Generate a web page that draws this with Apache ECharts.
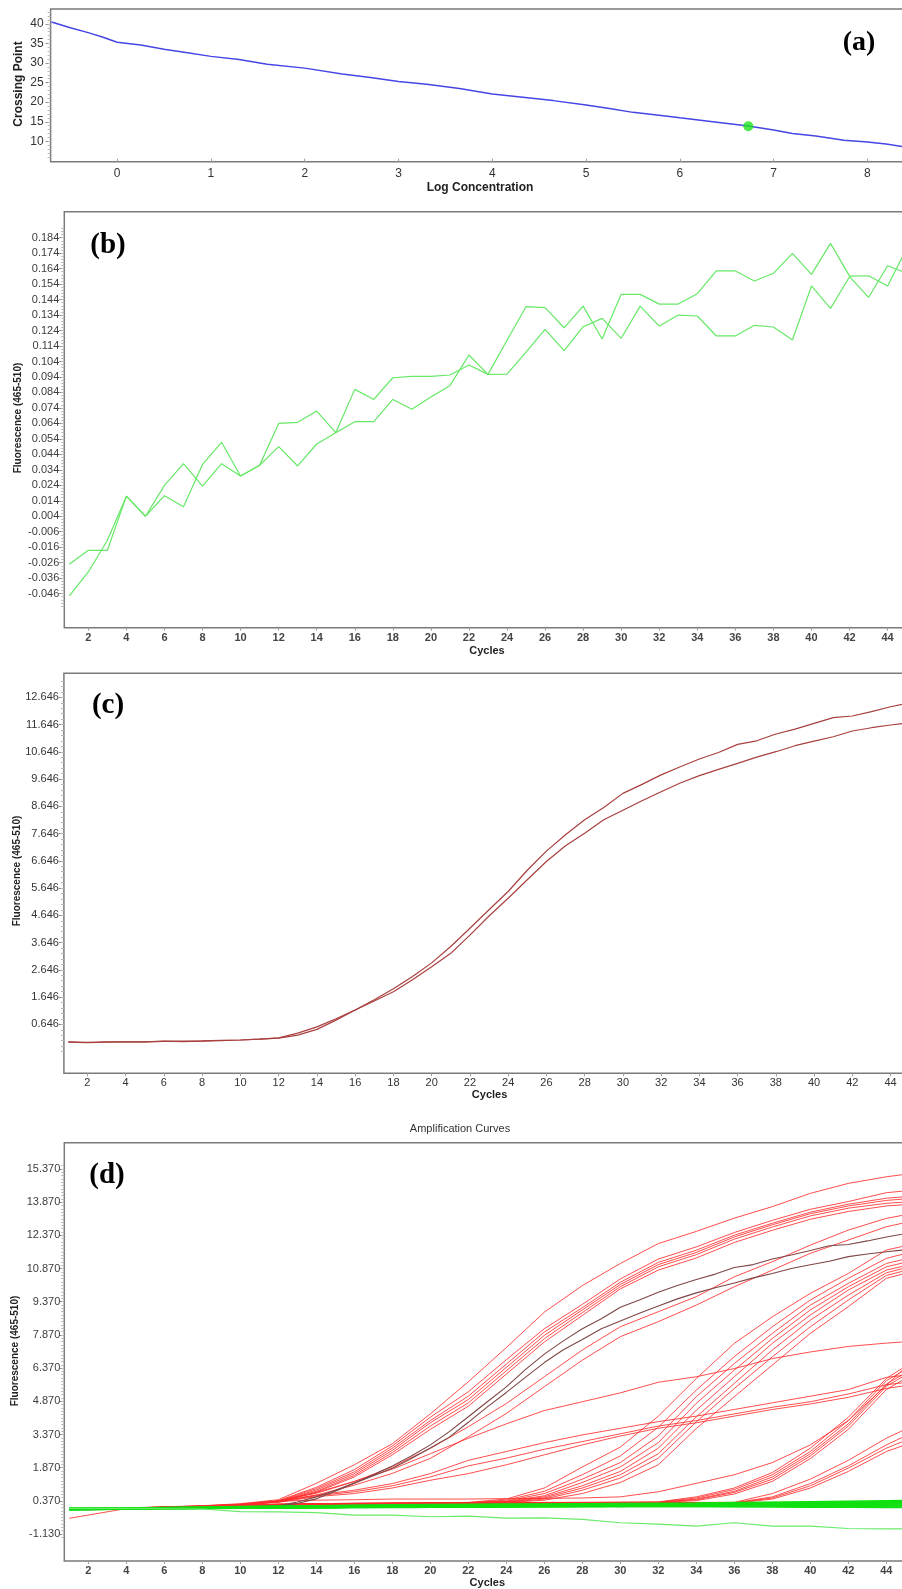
<!DOCTYPE html>
<html>
<head>
<meta charset="utf-8">
<script src="https://cdn.jsdelivr.net/npm/echarts@6/dist/echarts.min.js"></script>
<style>
  html, body { margin: 0; padding: 0; background: #fff; }
  #chart { width: 902px; height: 1589px; }
</style>
</head>
<body>
<div id="chart"></div>
<script>
// ---------- (a) standard curve ----------
const logConc = [-0.7,-0.5,-0.3,-0.15,0,0.25,0.5,0.75,1.0,1.3,1.6,2.0,2.4,2.7,3.0,3.3,3.65,4.0,4.3,4.65,5.0,5.25,5.5,5.8,6.0,6.35,6.73,7.0,7.2,7.45,7.75,8.0,8.2,8.45];
const crossingPoint = [40.5,39.0,37.7,36.6,35.3,34.6,33.5,32.6,31.7,30.9,29.7,28.7,27.2,26.3,25.3,24.6,23.5,22.1,21.3,20.4,19.3,18.4,17.4,16.6,16.0,15.0,13.9,12.9,12.0,11.35,10.3,9.85,9.3,8.4];
const samplePoint = [6.73, 13.85];
const ticksAX = [0,1,2,3,4,5,6,7,8];
const ticksAY = [10,15,20,25,30,35,40];

// ---------- cycle numbers ----------
const cycles = [1,2,3,4,5,6,7,8,9,10,11,12,13,14,15,16,17,18,19,20,21,22,23,24,25,26,27,28,29,30,31,32,33,34,35,36,37,38,39,40,41,42,43,44,45];
const cycleTicks = [2,4,6,8,10,12,14,16,18,20,22,24,26,28,30,32,34,36,38,40,42,44];

// ---------- (b) negative samples ----------
const negA = [-0.027,-0.018,-0.018,0.017,0.004,0.024,0.038,0.0235,0.038,0.030,0.037,0.064,0.0647,0.072,0.058,0.086,0.0795,0.0935,0.0944,0.0944,0.0953,0.1017,0.0957,0.0959,0.110,0.1248,0.1110,0.1265,0.1319,0.1190,0.1398,0.1269,0.1340,0.1334,0.1205,0.1205,0.1274,0.1263,0.1179,0.1528,0.1383,0.1588,0.1454,0.1659,0.161];
const negB = [-0.0475,-0.032,-0.0115,0.017,0.004,0.0173,0.0102,0.0375,0.0518,0.030,0.037,0.049,0.0365,0.0507,0.058,0.0651,0.0651,0.0795,0.0731,0.081,0.0884,0.1082,0.0957,0.1177,0.1394,0.1388,0.1258,0.1398,0.1185,0.1474,0.1474,0.1411,0.1411,0.1478,0.1625,0.1625,0.1560,0.1610,0.1739,0.1603,0.1803,0.1592,0.1594,0.1528,0.177];
const ticksBY = [-0.046,-0.036,-0.026,-0.016,-0.006,0.004,0.014,0.024,0.034,0.044,0.054,0.064,0.074,0.084,0.094,0.104,0.114,0.124,0.134,0.144,0.154,0.164,0.174,0.184];

// ---------- (c) positive control ----------
const posUpper = [-0.01,-0.03,-0.01,0.0,0.0,0.03,0.01,0.03,0.05,0.07,0.1,0.15,0.32,0.55,0.85,1.17,1.55,1.95,2.4,2.9,3.5,4.17,4.85,5.52,6.3,7.0,7.6,8.15,8.6,9.12,9.45,9.8,10.1,10.38,10.62,10.92,11.05,11.3,11.48,11.69,11.9,11.96,12.12,12.3,12.45];
const posLower = [0.0,-0.02,0.0,0.0,0.0,0.02,0.03,0.04,0.06,0.07,0.1,0.14,0.25,0.46,0.8,1.17,1.5,1.84,2.28,2.76,3.25,3.92,4.62,5.27,5.95,6.62,7.2,7.66,8.15,8.5,8.85,9.18,9.5,9.77,10.0,10.22,10.45,10.65,10.87,11.04,11.2,11.41,11.53,11.63,11.72];
const ticksCY = [0.646,1.646,2.646,3.646,4.646,5.646,6.646,7.646,8.646,9.646,10.646,11.646,12.646];

// ---------- (d) all amplification curves ----------
const cyclesD = [1,4,8,10,12,14,16,18,20,22,24,26,28,30,32,34,36,38,40,42,44,45];
const earlyCurves = [
  [0.0,0.05,0.15,0.24,0.42,1.16,2.0,2.95,4.3,5.75,7.3,8.9,10.1,11.1,12.0,12.55,13.15,13.67,14.27,14.72,15.02,15.13],
  [0.02,0.04,0.14,0.22,0.38,0.98,1.78,2.85,4.15,5.3,6.75,8.15,9.25,10.4,11.3,11.85,12.5,13.05,13.55,13.9,14.3,14.38],
  [0.01,0.04,0.13,0.21,0.36,0.92,1.68,2.75,4.0,5.1,6.55,8.0,9.1,10.25,11.15,11.7,12.38,12.92,13.42,13.78,14.05,14.12],
  [0.0,0.03,0.12,0.2,0.34,0.86,1.6,2.65,3.9,4.95,6.4,7.85,9.0,10.15,11.05,11.6,12.3,12.85,13.35,13.7,13.95,14.02],
  [0.0,0.03,0.12,0.2,0.33,0.8,1.52,2.55,3.75,4.8,6.25,7.7,8.88,10.05,10.95,11.5,12.2,12.75,13.25,13.6,13.82,13.88],
  [-0.02,0.03,0.11,0.19,0.32,0.76,1.45,2.45,3.6,4.65,6.1,7.55,8.75,9.95,10.8,11.35,12.05,12.6,13.1,13.45,13.7,13.76],
  [0.0,0.03,0.12,0.2,0.37,0.71,1.24,1.91,2.74,3.72,4.77,5.98,7.19,8.24,8.92,9.6,10.5,11.18,11.93,12.61,13.14,13.3],
  [0.01,0.03,0.12,0.19,0.35,0.63,1.08,1.61,2.29,3.27,4.32,5.53,6.73,7.79,8.47,9.22,10.05,10.8,11.56,12.16,12.76,12.95]
];
const shallowCurves = [
  [0.0,0.04,0.13,0.2,0.35,0.75,1.25,1.8,2.5,3.2,3.85,4.45,4.85,5.25,5.73,5.98,6.35,6.8,7.1,7.35,7.5,7.56],
  [0.0,0.03,0.12,0.19,0.33,0.63,0.85,1.15,1.6,2.2,2.6,3.0,3.35,3.65,3.95,4.2,4.5,4.8,5.1,5.4,5.95,6.05],
  [0.01,0.03,0.12,0.19,0.32,0.6,0.78,1.05,1.45,1.95,2.3,2.7,3.05,3.4,3.75,4.0,4.3,4.6,4.85,5.2,5.62,5.72],
  [0.0,0.03,0.11,0.18,0.3,0.56,0.7,0.95,1.3,1.6,2.0,2.45,2.9,3.3,3.65,3.9,4.2,4.5,4.75,5.05,5.45,5.58]
];
const midCurves = [
  [0.0,0.03,0.12,0.18,0.22,0.24,0.26,0.27,0.28,0.3,0.45,0.95,1.9,2.8,4.2,5.9,7.49,8.69,9.75,10.65,11.71,11.9],
  [0.0,0.03,0.12,0.18,0.22,0.24,0.26,0.27,0.28,0.29,0.4,0.8,1.55,2.4,3.7,5.38,6.89,8.24,9.45,10.43,11.33,11.55],
  [0.01,0.03,0.11,0.17,0.21,0.23,0.25,0.26,0.27,0.28,0.36,0.7,1.35,2.1,3.3,5.08,6.58,7.94,9.22,10.2,11.1,11.3],
  [0.0,0.03,0.11,0.17,0.21,0.23,0.25,0.26,0.27,0.28,0.34,0.6,1.2,1.9,3.0,4.78,6.28,7.71,9.0,10.05,10.95,11.15],
  [0.0,0.03,0.11,0.17,0.2,0.22,0.24,0.25,0.26,0.27,0.32,0.55,1.05,1.7,2.75,4.47,5.98,7.49,8.77,9.9,10.8,11.0],
  [0.01,0.03,0.11,0.16,0.2,0.22,0.24,0.25,0.26,0.27,0.31,0.5,0.95,1.55,2.5,4.17,5.68,7.19,8.54,9.67,10.68,10.9],
  [0.0,0.03,0.1,0.16,0.2,0.22,0.23,0.24,0.25,0.26,0.3,0.45,0.85,1.4,2.3,3.94,5.45,6.88,8.24,9.45,10.56,10.78],
  [0.0,0.03,0.1,0.16,0.19,0.21,0.23,0.24,0.25,0.26,0.29,0.4,0.7,1.2,2.0,3.64,5.08,6.51,7.94,9.15,10.43,10.65]
];
const lateCurves = [
  [0.0,0.04,0.14,0.2,0.35,0.4,0.42,0.45,0.45,0.45,0.47,0.48,0.5,0.55,0.78,1.16,1.55,2.1,2.9,4.0,5.6,6.4],
  [0.0,0.03,0.11,0.17,0.21,0.23,0.25,0.26,0.27,0.28,0.29,0.3,0.3,0.31,0.32,0.55,0.95,1.65,2.75,4.15,5.9,6.45],
  [0.0,0.03,0.11,0.17,0.2,0.22,0.24,0.25,0.26,0.27,0.28,0.29,0.3,0.3,0.31,0.5,0.88,1.55,2.6,4.0,5.8,6.3],
  [0.01,0.03,0.1,0.16,0.2,0.22,0.24,0.25,0.26,0.27,0.28,0.29,0.29,0.3,0.3,0.45,0.8,1.45,2.5,3.85,5.65,6.15],
  [0.0,0.03,0.1,0.16,0.2,0.22,0.23,0.24,0.25,0.26,0.27,0.28,0.29,0.29,0.3,0.42,0.75,1.35,2.4,3.75,5.55,6.05],
  [0.0,0.03,0.1,0.16,0.19,0.21,0.23,0.24,0.25,0.26,0.27,0.28,0.28,0.29,0.29,0.38,0.68,1.25,2.28,3.6,5.4,5.9]
];
const latestCurves = [
  [0.0,0.03,0.1,0.16,0.19,0.21,0.23,0.24,0.25,0.26,0.27,0.28,0.28,0.29,0.29,0.3,0.3,0.7,1.35,2.2,3.2,3.6],
  [0.0,0.03,0.1,0.16,0.19,0.21,0.22,0.23,0.24,0.25,0.26,0.27,0.28,0.28,0.29,0.29,0.28,0.55,1.15,1.95,2.9,3.3],
  [0.01,0.03,0.1,0.15,0.18,0.2,0.22,0.23,0.24,0.25,0.26,0.26,0.27,0.28,0.28,0.28,0.27,0.5,1.05,1.85,2.75,3.1],
  [-0.42,0.02,0.1,0.15,0.18,0.2,0.21,0.22,0.23,0.24,0.25,0.26,0.27,0.27,0.28,0.28,0.26,0.45,0.95,1.7,2.6,2.9]
];
const negativeBand = [
  [0.02,0.03,0.06,0.08,0.1,0.12,0.13,0.14,0.15,0.16,0.17,0.17,0.18,0.19,0.19,0.2,0.21,0.22,0.24,0.25,0.27,0.28],
  [-0.02,0.02,0.05,0.07,0.08,0.09,0.1,0.11,0.12,0.13,0.13,0.14,0.15,0.15,0.16,0.17,0.18,0.2,0.21,0.22,0.23,0.24],
  [0.01,0.03,0.07,0.09,0.11,0.13,0.15,0.16,0.17,0.18,0.19,0.2,0.21,0.22,0.23,0.24,0.26,0.28,0.3,0.31,0.32,0.33],
  [0.0,0.02,0.04,0.05,0.06,0.07,0.08,0.09,0.09,0.1,0.1,0.11,0.11,0.12,0.12,0.13,0.13,0.14,0.14,0.15,0.15,0.16],
  [0.03,0.03,0.08,0.1,0.12,0.14,0.16,0.18,0.19,0.2,0.21,0.22,0.23,0.24,0.25,0.26,0.28,0.3,0.32,0.34,0.36,0.37],
  [-0.01,0.02,0.05,0.06,0.07,0.08,0.09,0.09,0.1,0.1,0.11,0.11,0.12,0.12,0.12,0.12,0.11,0.1,0.09,0.09,0.08,0.08]
];
const negativeDrift = [0.03,0.03,0.0,-0.12,-0.13,-0.16,-0.28,-0.28,-0.35,-0.32,-0.41,-0.4,-0.47,-0.62,-0.68,-0.77,-0.62,-0.77,-0.77,-0.88,-0.9,-0.9];
const ticksDY = [-1.13,0.37,1.87,3.37,4.87,6.37,7.87,9.37,10.87,12.37,13.87,15.37];

// ---------- helpers ----------
const SANS = "'Liberation Sans', Arial, sans-serif";
const SERIF = "'Liberation Serif', 'Times New Roman', serif";

function steps(from, to, step) {
  const out = [];
  for (let i = 0; from + i * step <= to + 1e-9; i++) out.push(+(from + i * step).toFixed(4));
  return out;
}
function pairs(xs, ys) { return xs.map((x, i) => [x, ys[i]]); }

const series = [];
function addLine(gi, xs, ys, color, width, opacity) {
  series.push({
    type: 'line', xAxisIndex: gi, yAxisIndex: gi, data: pairs(xs, ys),
    symbol: 'none', silent: true, animation: false,
    lineStyle: { color: color, width: width, opacity: opacity == null ? 1 : opacity }
  });
}

function gridBox(left, top, width, height) {
  return { left, top, width, height, show: true, borderColor: '#7a7a7a', borderWidth: 1.5,
           backgroundColor: 'transparent', outerBoundsMode: 'none', containLabel: false };
}

function xAxisOf(gi, min, max, ticks, label) {
  return {
    type: 'value', gridIndex: gi, min, max, position: 'bottom',
    axisLine: { show: false, onZero: false }, splitLine: { show: false },
    axisTick: { show: true, customValues: ticks, length: 3, inside: !!label.inside,
                lineStyle: { color: '#a0a0a0' } },
    axisLabel: Object.assign({ customValues: ticks, color: '#333' }, label.style)
  };
}
function yAxisOf(gi, min, max, ticks, style, fmt) {
  return {
    type: 'value', gridIndex: gi, min, max, position: 'left',
    axisLine: { show: false, onZero: false }, splitLine: { show: false },
    axisTick: { show: true, customValues: ticks, length: 5, lineStyle: { color: '#8a8a8a' } },
    axisLabel: Object.assign({ customValues: ticks, formatter: fmt }, style)
  };
}
function minorAxisOf(gi, min, max, ticks) {
  return {
    type: 'value', gridIndex: gi, min, max, position: 'left', offset: 0,
    axisLine: { show: false, onZero: false }, splitLine: { show: false }, axisLabel: { show: false },
    axisTick: { show: true, customValues: ticks, length: 3, lineStyle: { color: '#b8b8b8' } }
  };
}

// ---------- series ----------
// (a)
addLine(0, logConc, crossingPoint, '#4646e4', 1.5);
series.push({ type: 'scatter', xAxisIndex: 0, yAxisIndex: 0, data: [samplePoint], symbolSize: 10,
              silent: true, animation: false, itemStyle: { color: '#1ee41e' }, z: 5 });
// (b)
addLine(1, cycles, negA, '#66e866', 1.2);
addLine(1, cycles, negB, '#66e866', 1.2);
// (c)
addLine(2, cycles, posUpper, '#a8403f', 1.2);
addLine(2, cycles, posLower, '#a8403f', 1.2);
// (d)
[earlyCurves, shallowCurves, midCurves, lateCurves, latestCurves].forEach(group =>
  group.forEach(ys => addLine(3, cyclesD, ys, '#ff2e2e', 1, 0.85)));
addLine(3, cycles, posUpper, '#7e4646', 1.1);
addLine(3, cycles, posLower, '#7e4646', 1.1);
negativeBand.forEach(ys => addLine(3, cyclesD, ys, '#10e010', 2));
addLine(3, cycles, negA, '#10e010', 1.5);
addLine(3, cycles, negB, '#10e010', 1.5);
addLine(3, cyclesD, negativeDrift, '#6aea6a', 1.2);

// ---------- layout ----------
const axisTitle = (text, x, y, size, rotate) => ({
  type: 'text', x, y, rotation: rotate ? Math.PI / 2 : 0, silent: true,
  style: { text, font: 'bold ' + size + 'px ' + SANS, fill: '#222',
           textAlign: 'center', align: 'center', textVerticalAlign: 'middle', verticalAlign: 'middle' }
});
const panelTag = (text, x, y, size) => ({
  type: 'text', x, y, silent: true,
  style: { text, font: 'bold ' + size + 'px ' + SERIF, fill: '#000',
           textAlign: 'center', align: 'center', textVerticalAlign: 'middle', verticalAlign: 'middle' }
});

const option = {
  backgroundColor: '#ffffff',
  animation: false,
  grid: [
    gridBox(50.6, 9, 859, 152.7),
    gridBox(64.3, 211.7, 845, 416),
    gridBox(63.9, 673.3, 851, 400),
    gridBox(64.3, 1142.7, 846, 418.3)
  ],
  xAxis: [
    xAxisOf(0, -0.71, 8.45, ticksAX, { inside: true, style: { fontFamily: SANS, fontSize: 12, margin: 6, color: '#333' } }),
    xAxisOf(1, 0.737, 45.14, cycleTicks, { style: { fontFamily: SANS, fontSize: 11, fontWeight: 'bold', margin: 5, color: '#454545' } }),
    xAxisOf(2, 0.77, 45.27, cycleTicks, { style: { fontFamily: SANS, fontSize: 11, margin: 4, color: '#333' } }),
    xAxisOf(3, 0.737, 45.26, cycleTicks, { style: { fontFamily: SANS, fontSize: 11, fontWeight: 'bold', margin: 4, color: '#454545' } })
  ],
  yAxis: [
    yAxisOf(0, 4.8, 43.8, ticksAY, { fontFamily: SANS, fontSize: 12, margin: 7, color: '#333' }, v => String(v)),
    yAxisOf(1, -0.068, 0.2008, ticksBY, { fontFamily: SANS, fontSize: 11, margin: 5, color: '#3c3c3c' }, v => v.toFixed(3)),
    yAxisOf(2, -1.152, 13.527, ticksCY, { fontFamily: SANS, fontSize: 11, margin: 5, color: '#333' }, v => v.toFixed(3)),
    yAxisOf(3, -2.35, 16.56, ticksDY, { fontFamily: SANS, fontSize: 11, margin: 4, color: '#3c3c3c' }, v => v.toFixed(3)),
    minorAxisOf(0, 4.8, 43.8, steps(6, 43, 1)),
    minorAxisOf(1, -0.068, 0.2008, steps(-0.054, 0.19, 0.002)),
    minorAxisOf(2, -1.152, 13.527, steps(-0.354, 13.25, 0.2)),
    minorAxisOf(3, -2.35, 16.56, steps(-1.28, 15.52, 0.15))
  ],
  graphic: { elements: [
    axisTitle('Crossing Point', 19, 84, 12, true),
    axisTitle('Log Concentration', 480, 188, 12, false),
    panelTag('(a)', 859, 43, 28),
    axisTitle('Fluorescence (465-510)', 18.3, 418, 10, true),
    axisTitle('Cycles', 487, 651, 11, false),
    panelTag('(b)', 108, 246, 29),
    axisTitle('Fluorescence (465-510)', 17.3, 871, 10, true),
    axisTitle('Cycles', 489.6, 1095, 11, false),
    panelTag('(c)', 108, 706, 29),
    { type: 'text', x: 460, y: 1129, silent: true,
      style: { text: 'Amplification Curves', font: '11px ' + SANS, fill: '#333',
               textAlign: 'center', align: 'center', textVerticalAlign: 'middle', verticalAlign: 'middle' } },
    axisTitle('Fluorescence (465-510)', 15.7, 1351, 10, true),
    axisTitle('Cycles', 487.3, 1583, 11, false),
    panelTag('(d)', 107, 1176, 29)
  ] },
  series: series
};

const chart = echarts.init(document.getElementById('chart'), null, { renderer: 'canvas', width: 902, height: 1589 });
chart.setOption(option);
</script>
</body>
</html>
